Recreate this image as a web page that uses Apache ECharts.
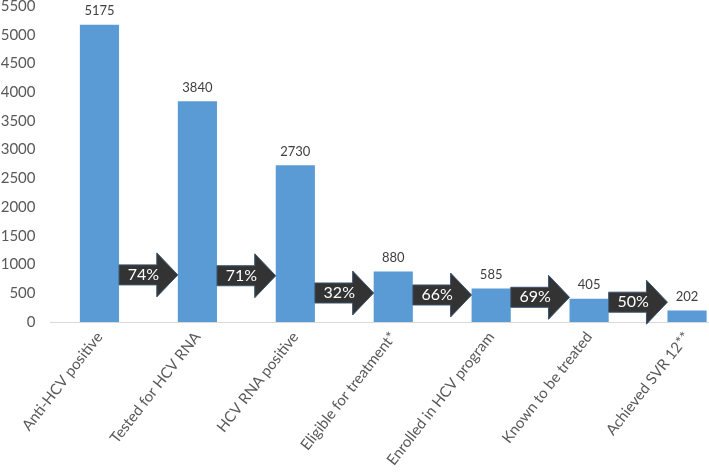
<!DOCTYPE html>
<html>
<head>
<meta charset="utf-8">
<style>
  html, body { margin: 0; padding: 0; background: #fff; }
  #chart { width: 709px; height: 475px; }
</style>
<script src="https://cdn.jsdelivr.net/npm/echarts@6/dist/echarts.min.js"></script>
</head>
<body>
<div id="chart"></div>
<script>
  // categories and values
  var stages = ['Anti-HCV positive', 'Tested for HCV RNA', 'HCV RNA positive',
    'Eligible for treatment*', 'Enrolled in HCV program', 'Known to be treated', 'Achieved SVR 12**'];
  var counts = [5175, 3840, 2730, 880, 585, 405, 202];
  // step-to-step percentages and the level (in y units) where each arrow sits
  var stepPct = [74, 71, 32, 66, 69, 50];
  var arrowLevel = [820, 805, 505, 470, 430, 345];
  var yTicks = { min: 0, max: 5500, interval: 500 };

  var arrowData = [];
  for (var i = 0; i < stepPct.length; i++) {
    arrowData.push([i, arrowLevel[i], stepPct[i]]);
  }

  var chart = echarts.init(document.getElementById('chart'));

  var option = {
    animation: false,
    grid: {
      left: 50.5, right: -27, top: 6, bottom: 153,
      containLabel: false,
      outerBoundsMode: 'none'
    },
    xAxis: {
      type: 'category',
      data: stages,
      axisTick: { show: false },
      axisLine: { lineStyle: { color: '#d9d9d9', width: 1 } },
      axisLabel: {
        interval: 0,
        rotate: 52,
        margin: 12,
        color: '#595959',
        fontFamily: 'Lato',
        fontSize: 15
      }
    },
    yAxis: {
      type: 'value',
      min: yTicks.min,
      max: yTicks.max,
      interval: yTicks.interval,
      splitLine: { show: false },
      axisLine: { show: false },
      axisTick: { show: false },
      axisLabel: {
        margin: 15,
        color: '#595959',
        fontFamily: 'Lato',
        fontSize: 15,
        formatter: function (v) { return String(v); }
      }
    },
    series: [{
      type: 'bar',
      data: counts,
      barWidth: '40%',
      itemStyle: { color: '#5b9bd5' },
      label: {
        show: true,
        position: 'top',
        distance: 7,
        color: '#404040',
        fontFamily: 'Lato',
        fontSize: 13
      },
      z: 2
    }, {
      type: 'custom',
      data: arrowData,
      encode: { x: 0, y: 1 },
      clip: false,
      z: 5,
      renderItem: function (params, api) {
        var idx = api.value(0);
        var a = api.coord([idx, api.value(1)]);
        var b = api.coord([idx + 1, api.value(1)]);
        var bw = api.size([1, 0])[0] * 0.4;
        var x0 = a[0] + bw / 2;
        var x1 = b[0] - bw / 2;
        var y = a[1];
        var headLen = 21, bodyH = 20, headH = 44;
        var xb = x1 - headLen;
        var pts = [
          [x0, y - bodyH / 2], [xb, y - bodyH / 2], [xb, y - headH / 2],
          [x1, y], [xb, y + headH / 2], [xb, y + bodyH / 2], [x0, y + bodyH / 2]
        ];
        return {
          type: 'group',
          children: [{
            type: 'polygon',
            shape: { points: pts },
            style: { fill: '#333333', stroke: '#3a5570', lineWidth: 1 }
          }, {
            type: 'text',
            style: {
              text: api.value(2) + '%',
              x: (x0 + x1) / 2 - 5,
              y: y,
              align: 'center',
              verticalAlign: 'middle',
              fill: '#ffffff',
              fontFamily: 'Lato',
              fontSize: 16
            }
          }]
        };
      }
    }]
  };

  chart.setOption(option);
</script>
</body>
</html>
